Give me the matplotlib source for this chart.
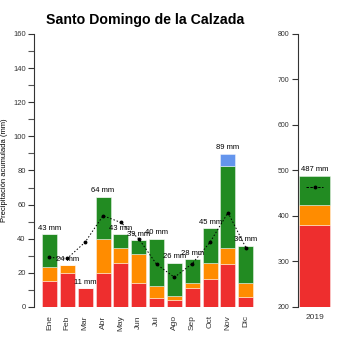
import numpy as np
import matplotlib
matplotlib.use("Agg")
import matplotlib.pyplot as plt

plt.rcParams['font.family'] = ['Liberation Sans', 'DejaVu Sans']

## Data
meses = ['Ene', 'Feb', 'Mar', 'Abr', 'May', 'Jun', 'Jul', 'Ago', 'Sep', 'Oct', 'Nov', 'Dic']
rojo = [15.5, 19.7, 11, 19.8, 26, 14, 5, 4, 11, 16.5, 25, 5.7]
naranja = [8, 4.8, 0, 20.2, 8.7, 17, 7, 2.3, 3, 9, 9.3, 8.2]
verde = [19.2, 0, 0, 24.7, 8, 8, 27.7, 19.7, 14, 20.5, 48.5, 22]
azul = [0, 0, 0, 0, 0, 0, 0.3, 0, 0, 0, 7, 0]
etiquetas = ['43 mm', '24 mm', '11 mm', '64 mm', '43 mm', '39 mm', '40 mm',
             '26 mm', '28 mm', '45 mm', '89 mm', '36 mm']
media = [29, 28.5, 38, 53.5, 49.5, 40, 25, 17.4, 25.4, 38, 55.3, 34.8]

anio = ['2019']
anio_rojo = [380]
anio_naranja = [45]
anio_verde = [63]
anio_etiqueta = ['487 mm']
anio_media = [463]

colores = ['#ee2e2e', '#ff8c00', '#228b22', '#6495ed']
borde = (1, 1, 1, 0.5)

fig = plt.figure(figsize=(3.5, 3.5), dpi=100)

## Monthly panel
ax = fig.add_axes([0.097, 0.123, 0.636, 0.780])
x = np.arange(len(meses))
abajo = np.zeros(len(meses))
for serie, c in zip([rojo, naranja, verde, azul], colores):
    ax.bar(x, serie, 0.84, bottom=abajo, color=c, edgecolor=borde, linewidth=0.6)
    abajo = abajo + np.array(serie)
for i in range(len(meses)):
    ax.text(x[i], abajo[i] + 1.5, etiquetas[i], ha='center', va='bottom', fontsize=5.5)
ax.plot(x, media, color='black', linestyle=(0, (1.5, 2)), linewidth=0.7,
        marker='o', markersize=1.8)

ax.set_xlim(-0.87, 11.6)
ax.set_ylim(0, 160)
ax.set_yticks(np.arange(0, 161, 20))
ax.set_yticks(np.arange(10, 160, 20), minor=True)
ax.set_xticks(x)
ax.set_xticklabels(meses, rotation=90, fontsize=6, color='#333333')
ax.tick_params(axis='x', length=0, pad=6)
ax.tick_params(axis='y', labelsize=5.5, colors='#333333', length=4, width=0.8, pad=2)
ax.tick_params(axis='y', which='minor', length=4, width=0.8, color='#555555')
for s in ['top', 'right', 'bottom']:
    ax.spines[s].set_visible(False)
ax.spines['left'].set_color('#333333')
ax.set_ylabel('Precipitación acumulada (mm)', fontsize=5.5)
ax.yaxis.set_label_coords(-0.115, 0.5)
ax.set_title('Santo Domingo de la Calzada', fontsize=10.2, fontweight='bold',
             x=0.5, pad=7)

## Annual panel
ax2 = fig.add_axes([0.851, 0.123, 0.10, 0.780])
xa = np.arange(len(anio))
abajo2 = np.zeros(len(anio))
for serie, c in zip([anio_rojo, anio_naranja, anio_verde], colores):
    ax2.bar(xa, serie, 0.95, bottom=abajo2, color=c, edgecolor=borde, linewidth=0.6)
    abajo2 = abajo2 + np.array(serie)
for i in range(len(anio)):
    ax2.text(xa[i], abajo2[i] + 7, anio_etiqueta[i], ha='center', va='bottom', fontsize=5.5)
ax2.plot([xa[0] - 0.25, xa[0], xa[0] + 0.25], anio_media * 3, color='black',
         linestyle=(0, (2.5, 1.5)), linewidth=0.7, marker='o', markersize=1.8,
         markevery=[1])
ax2.set_xlim(-0.5, 0.55)
ax2.set_ylim(200, 800)
ax2.set_yticks(np.arange(200, 801, 100))
ax2.set_xticks(xa)
ax2.set_xticklabels(anio, fontsize=6, color='#333333')
ax2.tick_params(axis='x', length=0, pad=5)
ax2.tick_params(axis='y', labelsize=5, colors='#333333', length=4, width=0.8, pad=2)
for s in ['top', 'right', 'bottom']:
    ax2.spines[s].set_visible(False)
ax2.spines['left'].set_color('#333333')

fig.savefig('out.png', dpi=100)
